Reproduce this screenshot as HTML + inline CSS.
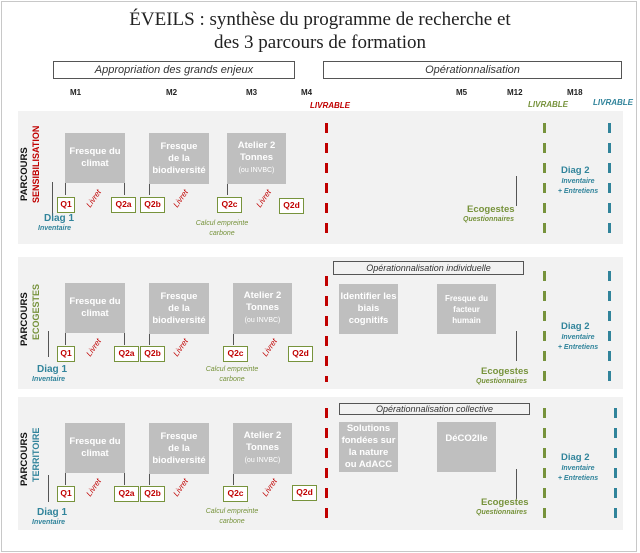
<!DOCTYPE html>
<html><head><meta charset="utf-8"><style>
*{margin:0;padding:0;box-sizing:border-box}
body{width:640px;height:553px;background:#fff;position:relative;overflow:hidden;font-family:"Liberation Sans",sans-serif}
.a{position:absolute}
.frame{left:1px;top:1px;width:636px;height:551px;border:1px solid #c8c8c8}
.title{left:0;width:640px;top:8px;text-align:center;font-family:"Liberation Serif",serif;font-size:19px;line-height:23px;color:#222}
.hb{border:1px solid #555;height:18px;font-style:italic;font-size:11px;text-align:center;line-height:16px;color:#333}
.m{font-size:8px;font-weight:bold;color:#222}
.liv{font-size:8px;font-weight:bold;font-style:italic}
.panel{left:18px;width:605px;background:#f2f2f2}
.g{background:#bfbfbf;color:#fff;font-weight:bold;font-size:9.5px;text-align:center;display:flex;align-items:center;justify-content:center;line-height:12px}
.q{border:1.5px solid #77933c;background:#fff;color:#c00000;font-weight:bold;font-size:8.5px;text-align:center;line-height:13px;height:16px}
.vl{width:1px;background:#555}
.lr{color:#c00000;font-size:8px;font-style:italic;transform:rotate(-55deg);transform-origin:center}
.blue{color:#31849b}
.green{color:#77933c}
.small{font-size:7px;font-style:italic;font-weight:bold;white-space:nowrap}
.rot{transform:rotate(-90deg);transform-origin:left top;font-weight:bold;font-size:9.5px;white-space:nowrap}
.dash{width:3px}
.d2{width:60px;text-align:center;line-height:10px}
</style></head><body>
<div class="a frame"></div>
<div class="a title">ÉVEILS : synthèse du programme de recherche et<br>des 3 parcours de formation</div>
<div class="a hb" style="left:53px;top:61px;width:242px">Appropriation des grands enjeux</div>
<div class="a hb" style="left:323px;top:61px;width:299px">Opérationnalisation</div>
<div class="a m" style="left:70px;top:88px">M1</div>
<div class="a m" style="left:166px;top:88px">M2</div>
<div class="a m" style="left:246px;top:88px">M3</div>
<div class="a m" style="left:301px;top:88px">M4</div>
<div class="a m" style="left:456px;top:88px">M5</div>
<div class="a m" style="left:507px;top:88px">M12</div>
<div class="a m" style="left:567px;top:88px">M18</div>
<div class="a liv" style="left:310px;top:101px;color:#c00000">LIVRABLE</div>
<div class="a liv" style="left:528px;top:100px;color:#77933c">LIVRABLE</div>
<div class="a liv" style="left:593px;top:98px;color:#31849b">LIVRABLE</div>

<div class="a panel" style="top:111px;height:133px"></div>
<div class="a panel" style="top:257px;height:132px"></div>
<div class="a panel" style="top:397px;height:133px"></div>

<!-- Panel 1 -->
<div class="a rot" style="left:19px;top:201px;color:#111">PARCOURS</div>
<div class="a rot" style="left:31px;top:203px;color:#c00000;font-size:9px">SENSIBILISATION</div>
<div class="a g" style="left:65px;top:133px;width:60px;height:50px">Fresque du<br>climat</div>
<div class="a g" style="left:149px;top:133px;width:60px;height:51px">Fresque<br>de la<br>biodiversité</div>
<div class="a g" style="left:227px;top:133px;width:59px;height:51px"><span>Atelier 2<br>Tonnes<br><span style="font-weight:normal;font-size:7px">(ou INVBC)</span></span></div>
<div class="a vl" style="left:65px;top:183px;height:12px"></div>
<div class="a vl" style="left:124px;top:183px;height:12px"></div>
<div class="a vl" style="left:149px;top:184px;height:11px"></div>
<div class="a vl" style="left:227px;top:184px;height:11px"></div>
<div class="a vl" style="left:52px;top:182px;height:34px"></div>
<div class="a q" style="left:57px;top:197px;width:18px">Q1</div>
<div class="a q" style="left:111px;top:197px;width:25px">Q2a</div>
<div class="a q" style="left:140px;top:197px;width:25px">Q2b</div>
<div class="a q" style="left:217px;top:197px;width:25px">Q2c</div>
<div class="a q" style="left:279px;top:198px;width:25px">Q2d</div>
<div class="a lr" style="left:84px;top:194px">Livret</div>
<div class="a lr" style="left:171px;top:194px">Livret</div>
<div class="a lr" style="left:254px;top:194px">Livret</div>
<div class="a blue" style="left:44px;top:213px;font-weight:bold;font-size:10px">Diag 1</div>
<div class="a blue small" style="left:38px;top:225px">Inventaire</div>
<div class="a green" style="left:190px;top:219px;width:64px;text-align:center;font-size:7px;font-style:italic;line-height:10px">Calcul empreinte<br>carbone</div>
<div class="a green" style="left:467px;top:204px;font-weight:bold;font-size:9.5px">Ecogestes</div>
<div class="a green small" style="left:463px;top:216px">Questionnaires</div>
<div class="a vl" style="left:516px;top:176px;height:30px"></div>
<div class="a blue" style="left:561px;top:165px;font-weight:bold;font-size:9.5px">Diag 2</div>
<div class="a blue small d2" style="left:548px;top:177px">Inventaire<br>+ Entretiens</div>

<!-- Panel 2 -->
<div class="a rot" style="left:19px;top:346px;color:#111">PARCOURS</div>
<div class="a rot" style="left:31px;top:340px;color:#77933c;font-size:9px">ECOGESTES</div>
<div class="a g" style="left:65px;top:283px;width:60px;height:50px">Fresque du<br>climat</div>
<div class="a g" style="left:149px;top:283px;width:60px;height:51px">Fresque<br>de la<br>biodiversité</div>
<div class="a g" style="left:233px;top:283px;width:59px;height:51px"><span>Atelier 2<br>Tonnes<br><span style="font-weight:normal;font-size:7px">(ou INVBC)</span></span></div>
<div class="a vl" style="left:65px;top:333px;height:12px"></div>
<div class="a vl" style="left:124px;top:333px;height:12px"></div>
<div class="a vl" style="left:149px;top:334px;height:11px"></div>
<div class="a vl" style="left:233px;top:334px;height:11px"></div>
<div class="a vl" style="left:48px;top:331px;height:26px"></div>
<div class="a q" style="left:57px;top:346px;width:18px">Q1</div>
<div class="a q" style="left:114px;top:346px;width:25px">Q2a</div>
<div class="a q" style="left:140px;top:346px;width:25px">Q2b</div>
<div class="a q" style="left:223px;top:346px;width:25px">Q2c</div>
<div class="a q" style="left:288px;top:346px;width:25px">Q2d</div>
<div class="a lr" style="left:84px;top:343px">Livret</div>
<div class="a lr" style="left:171px;top:343px">Livret</div>
<div class="a lr" style="left:260px;top:343px">Livret</div>
<div class="a blue" style="left:37px;top:364px;font-weight:bold;font-size:10px">Diag 1</div>
<div class="a blue small" style="left:32px;top:376px">Inventaire</div>
<div class="a green" style="left:200px;top:365px;width:64px;text-align:center;font-size:7px;font-style:italic;line-height:10px">Calcul empreinte<br>carbone</div>
<div class="a hb" style="left:333px;top:261px;width:191px;height:14px;line-height:12px;font-size:9px">Opérationnalisation individuelle</div>
<div class="a g" style="left:339px;top:284px;width:59px;height:50px">Identifier les<br>biais<br>cognitifs</div>
<div class="a g" style="left:437px;top:284px;width:59px;height:50px;font-size:8px;line-height:11px">Fresque du<br>facteur<br>humain</div>
<div class="a vl" style="left:516px;top:331px;height:30px"></div>
<div class="a green" style="left:481px;top:366px;font-weight:bold;font-size:9.5px">Ecogestes</div>
<div class="a green small" style="left:476px;top:378px">Questionnaires</div>
<div class="a blue" style="left:561px;top:321px;font-weight:bold;font-size:9.5px">Diag 2</div>
<div class="a blue small d2" style="left:548px;top:333px">Inventaire<br>+ Entretiens</div>

<!-- Panel 3 -->
<div class="a rot" style="left:19px;top:486px;color:#111">PARCOURS</div>
<div class="a rot" style="left:31px;top:482px;color:#31849b;font-size:9px">TERRITOIRE</div>
<div class="a g" style="left:65px;top:423px;width:60px;height:50px">Fresque du<br>climat</div>
<div class="a g" style="left:149px;top:423px;width:60px;height:51px">Fresque<br>de la<br>biodiversité</div>
<div class="a g" style="left:233px;top:423px;width:59px;height:51px"><span>Atelier 2<br>Tonnes<br><span style="font-weight:normal;font-size:7px">(ou INVBC)</span></span></div>
<div class="a vl" style="left:65px;top:473px;height:12px"></div>
<div class="a vl" style="left:124px;top:473px;height:12px"></div>
<div class="a vl" style="left:149px;top:474px;height:11px"></div>
<div class="a vl" style="left:233px;top:474px;height:11px"></div>
<div class="a vl" style="left:48px;top:475px;height:27px"></div>
<div class="a q" style="left:57px;top:486px;width:18px">Q1</div>
<div class="a q" style="left:114px;top:486px;width:25px">Q2a</div>
<div class="a q" style="left:140px;top:486px;width:25px">Q2b</div>
<div class="a q" style="left:223px;top:486px;width:25px">Q2c</div>
<div class="a q" style="left:292px;top:485px;width:25px">Q2d</div>
<div class="a lr" style="left:84px;top:483px">Livret</div>
<div class="a lr" style="left:171px;top:483px">Livret</div>
<div class="a lr" style="left:260px;top:483px">Livret</div>
<div class="a blue" style="left:37px;top:507px;font-weight:bold;font-size:10px">Diag 1</div>
<div class="a blue small" style="left:32px;top:519px">Inventaire</div>
<div class="a green" style="left:200px;top:507px;width:64px;text-align:center;font-size:7px;font-style:italic;line-height:10px">Calcul empreinte<br>carbone</div>
<div class="a hb" style="left:339px;top:403px;width:191px;height:12px;line-height:10px;font-size:9px">Opérationnalisation collective</div>
<div class="a g" style="left:339px;top:422px;width:59px;height:50px">Solutions<br>fondées sur<br>la nature<br>ou AdACC</div>
<div class="a g" style="left:437px;top:422px;width:59px;height:50px;align-items:flex-start;padding-top:11px">DéCO2lle</div>
<div class="a vl" style="left:516px;top:469px;height:30px"></div>
<div class="a green" style="left:481px;top:497px;font-weight:bold;font-size:9.5px">Ecogestes</div>
<div class="a green small" style="left:476px;top:509px">Questionnaires</div>
<div class="a blue" style="left:561px;top:452px;font-weight:bold;font-size:9.5px">Diag 2</div>
<div class="a blue small d2" style="left:548px;top:464px">Inventaire<br>+ Entretiens</div>

<div class="a dash" style="left:325px;top:123px;height:114px;background:repeating-linear-gradient(#c00000 0 10px,transparent 10px 20px)"></div>
<div class="a dash" style="left:543px;top:123px;height:114px;background:repeating-linear-gradient(#77933c 0 10px,transparent 10px 20px)"></div>
<div class="a dash" style="left:608px;top:123px;height:114px;background:repeating-linear-gradient(#31849b 0 10px,transparent 10px 20px)"></div>
<div class="a dash" style="left:325px;top:276px;height:106px;background:repeating-linear-gradient(#c00000 0 10px,transparent 10px 20px)"></div>
<div class="a dash" style="left:543px;top:271px;height:110px;background:repeating-linear-gradient(#77933c 0 10px,transparent 10px 20px)"></div>
<div class="a dash" style="left:608px;top:271px;height:110px;background:repeating-linear-gradient(#31849b 0 10px,transparent 10px 20px)"></div>
<div class="a dash" style="left:325px;top:408px;height:112px;background:repeating-linear-gradient(#c00000 0 10px,transparent 10px 20px)"></div>
<div class="a dash" style="left:543px;top:408px;height:112px;background:repeating-linear-gradient(#77933c 0 10px,transparent 10px 20px)"></div>
<div class="a dash" style="left:614px;top:408px;height:112px;background:repeating-linear-gradient(#31849b 0 10px,transparent 10px 20px)"></div>
</body></html>
